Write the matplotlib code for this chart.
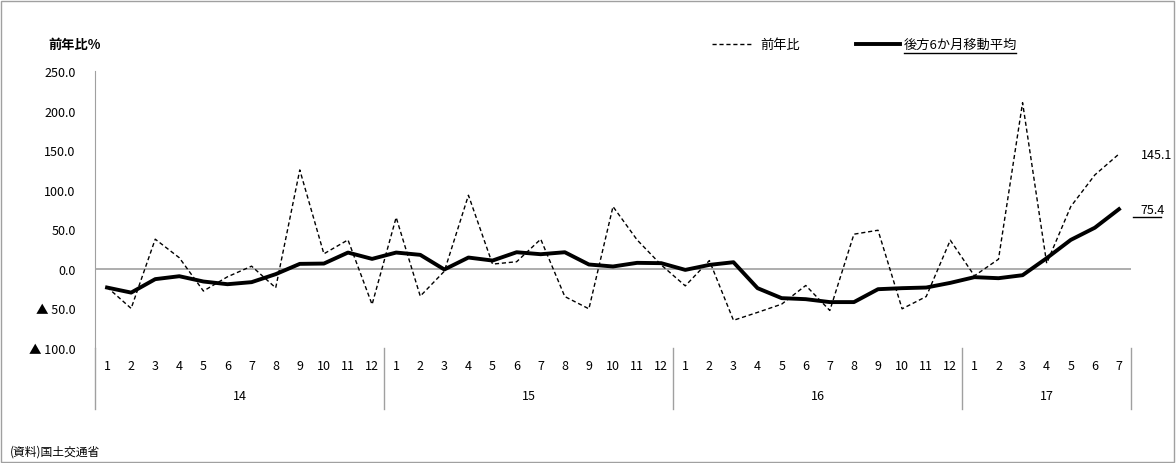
import matplotlib
matplotlib.use("Agg")
import matplotlib.pyplot as plt
from matplotlib.patches import Rectangle
from matplotlib.lines import Line2D

plt.rcParams['font.family'] = ['Noto Sans CJK JP', 'DejaVu Sans']

years = ['14', '15', '16', '17']
months = [str(m) for m in range(1, 13)] * 3 + [str(m) for m in range(1, 8)]
yoy = [-23, -50, 37.5, 14, -28, -10, 3.4, -24, 125, 19, 36.6, -45,
       65, -34.5, -3, 93, 6, 9, 37.5, -35, -50.5, 78.7, 36.6, 5,
       -21.5, 10.5, -65, -55, -44.6, -21, -52.6, 43.8, 48.8, -50.5, -35, 36.2,
       -8.8, 12.2, 210, 7, 78.7, 118.7, 145.1]
ma6 = [-23.6, -30, -13, -9.3, -16, -19.4, -16.8, -6.7, 6.3, 6.7, 20.6, 12.6,
       20.6, 17.7, -0.8, 14.3, 10.5, 21, 18.5, 21, 5.5, 3, 7.6, 7.2,
       -1.3, 5, 8.4, -24.4, -37, -38.3, -42, -42, -25.7, -24.4, -23.6, -17.7,
       -10.5, -11.8, -8, 13.5, 36.6, 52, 75.4]
yticks = [250, 200, 150, 100, 50, 0, -50, -100]
ylabels = ['250.0', '200.0', '150.0', '100.0', '50.0', '0.0', '▲ 50.0', '▲ 100.0']

fig = plt.figure(figsize=(11.76, 4.64), dpi=100)
W, H = 1176, 464
ax = fig.add_axes([95 / W, 1 - 349 / H, (1131 - 95) / W, (349 - 72) / H])
x = list(range(len(yoy)))
ax.plot(x, yoy, color='black', lw=1.0, ls=(0, (3, 2)))
ax.plot(x, ma6, color='black', lw=2.8, solid_joinstyle='round')
ax.axhline(0, color='#a0a0a0', lw=1.2, zorder=0)
ax.set_xlim(-0.5, len(yoy) - 0.5)
ax.set_ylim(-100, 250)
ax.set_yticks(yticks)
ax.set_yticklabels(ylabels, fontsize=9)
ax.tick_params(axis='y', length=0, pad=14)
ax.set_xticks([])
for s in ['top', 'right', 'bottom']:
    ax.spines[s].set_visible(False)
ax.spines['left'].set_color('#a0a0a0')

for i, m in enumerate(months):
    ax.text(i, -122.5, m, ha='center', va='center', fontsize=9, clip_on=False)
starts = [0, 12, 24, 36, 43]
for k, yr in enumerate(years):
    ax.text((starts[k] + starts[k + 1] - 1) / 2, -160, yr, ha='center', va='center', fontsize=9, clip_on=False)
for s in starts:
    ax.add_line(Line2D([s - 0.5, s - 0.5], [-100, -177], color='#a0a0a0', lw=1, clip_on=False))

ax.text(len(yoy) - 0.1, yoy[-1], f'{yoy[-1]:.1f}', fontsize=9, va='center', ha='left', clip_on=False)
ax.text(len(yoy) - 0.1, ma6[-1], f'{ma6[-1]:.1f}', fontsize=9, va='center', ha='left', clip_on=False)
ax.add_line(Line2D([42.6, 43.75], [ma6[-1] - 10, ma6[-1] - 10], color='black', lw=1, clip_on=False))

fig.text(48 / W, 1 - 45 / H, '前年比%', fontsize=9.5, va='center', weight='bold')
fig.add_artist(Line2D([712 / W, 752 / W], [1 - 45 / H] * 2, color='black', lw=1, ls=(0, (3, 2))))
fig.text(760 / W, 1 - 45 / H, '前年比', fontsize=9.5, va='center')
fig.add_artist(Line2D([856 / W, 900 / W], [1 - 45 / H] * 2, color='black', lw=2.8))
fig.text(904 / W, 1 - 45 / H, '後方6か月移動平均', fontsize=9.5, va='center')
fig.add_artist(Line2D([904 / W, 1016 / W], [1 - 54 / H] * 2, color='black', lw=1))
fig.text(10 / W, 1 - 452 / H, '(資料)国土交通省', fontsize=8.5, va='center')
fig.add_artist(Rectangle((1 / W, 1 / H), 1 - 3 / W, 1 - 3 / H, transform=fig.transFigure,
                         fill=False, edgecolor='#a0a0a0', lw=1))
fig.savefig('out.png', dpi=100)
